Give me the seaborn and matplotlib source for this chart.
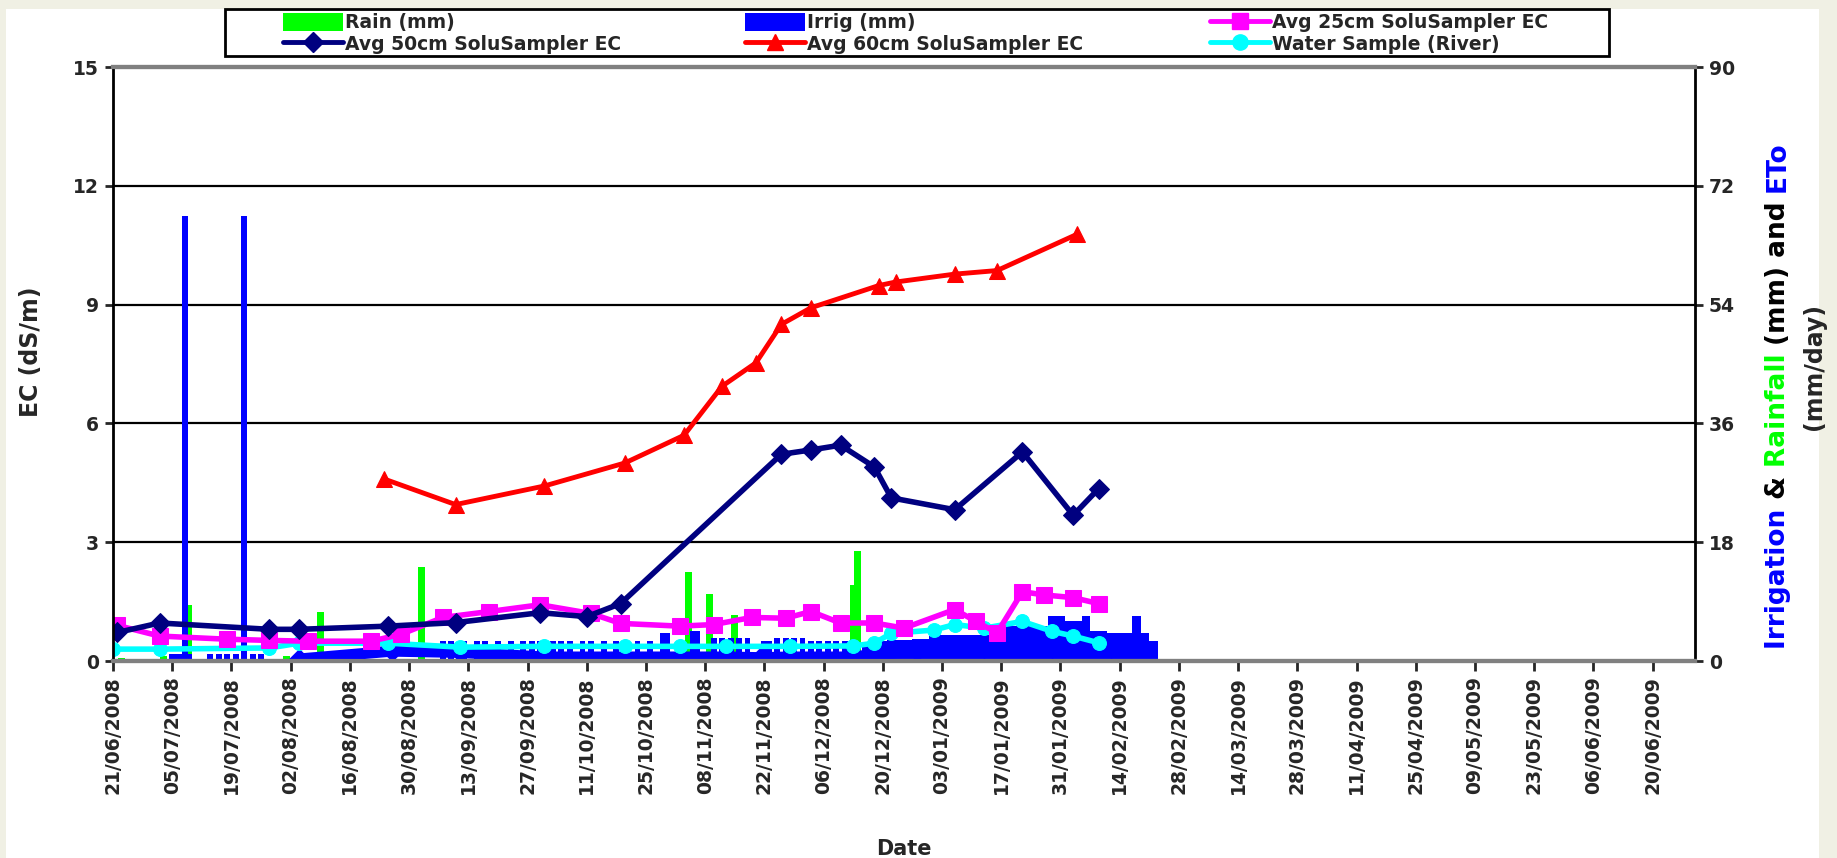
import numpy as np
import pandas as pd
import matplotlib
matplotlib.use("Agg")
import matplotlib.pyplot as plt
import matplotlib.dates as mdates
from matplotlib.patches import Patch, Rectangle
from matplotlib.lines import Line2D
import seaborn as sns

sns.set_style("white")
plt.rcParams['font.family'] = ['DejaVu Sans']
plt.rcParams['font.weight'] = 'bold'

# ============================================================
# Data
# ============================================================
rain_dates = ["2008-06-23", "2008-07-03", "2008-07-09", "2008-08-01", "2008-08-09",
              "2008-08-16", "2008-09-02", "2008-11-04", "2008-11-09", "2008-11-15",
              "2008-12-13", "2008-12-14"]
rain_mm = [0.5, 0.7, 8.5, 0.8, 7.5, 0.4, 14.3, 13.5, 10.2, 7.0, 11.5, 16.6]

irrig_dates = ["2008-07-05", "2008-07-06", "2008-07-07", "2008-07-08", "2008-07-09",
               "2008-07-14", "2008-07-16", "2008-07-18", "2008-07-20", "2008-07-22",
               "2008-07-24", "2008-07-26",
               "2008-09-07", "2008-09-09", "2008-09-12", "2008-09-15", "2008-09-17",
               "2008-09-20", "2008-09-23", "2008-09-26", "2008-09-28", "2008-09-30",
               "2008-10-03", "2008-10-05", "2008-10-07", "2008-10-10", "2008-10-12",
               "2008-10-15", "2008-10-18", "2008-10-20", "2008-10-23", "2008-10-26",
               "2008-10-29", "2008-10-30", "2008-11-05", "2008-11-06",
               "2008-11-10", "2008-11-12", "2008-11-14", "2008-11-16", "2008-11-18",
               "2008-11-22", "2008-11-23",
               "2008-11-25", "2008-11-27", "2008-11-29", "2008-12-01",
               "2008-12-03", "2008-12-05", "2008-12-07", "2008-12-09", "2008-12-11"]
irrig_mm = [1.0, 1.0, 1.0, 67.5, 1.0,
            1.0, 1.0, 1.0, 1.0, 67.5,
            1.0, 1.0,
            3.0, 3.0, 3.0, 3.0, 3.0,
            3.0, 3.0, 3.0, 3.0, 3.0,
            3.0, 3.0, 3.0, 3.0, 3.0,
            3.0, 3.0, 3.0, 3.0, 3.0,
            4.25, 4.25, 4.5, 4.5,
            3.5, 3.5, 3.5, 3.5, 3.5,
            3.0, 3.0,
            3.5, 3.5, 3.5, 3.5,
            3.0, 3.0, 3.0, 3.0, 3.0]

# summer irrigation block, one value per 2 days from 16/12/2008
irrig_summer_dates = pd.date_range("2008-12-16", "2009-02-22", freq="2D")
irrig_summer_mm = [2.5, 2.75, 3.0, 3.25, 3.25, 3.25, 3.3, 3.3, 3.75, 4.0,
                   4.0, 4.0, 4.0, 4.0, 4.0, 4.0, 4.0, 5.25, 5.25, 5.25,
                   5.25, 5.25, 6.75, 6.75, 6.0, 6.0, 6.75, 4.5, 4.5, 4.25,
                   4.25, 4.25, 6.75, 4.25, 3.0]

eto_dates = ["2008-08-04", "2008-08-26", "2008-09-11", "2008-10-01", "2008-10-20",
             "2008-11-02", "2008-11-13", "2008-11-21", "2008-11-28", "2008-12-12",
             "2008-12-28", "2009-01-13", "2009-01-29", "2009-02-12"]
eto_mm = [0.3, 1.5, 1.3, 0.6, 0.6, 0.6, 0.6, 0.5, 0.6, 0.6, 1.5, 2.0, 2.0, 2.0]

ec25_dates = ["2008-06-22", "2008-07-02", "2008-07-18", "2008-07-28", "2008-08-06",
              "2008-08-21", "2008-08-28", "2008-09-07", "2008-09-18", "2008-09-30",
              "2008-10-12", "2008-10-19", "2008-11-02", "2008-11-10", "2008-11-19",
              "2008-11-27", "2008-12-03", "2008-12-10", "2008-12-18", "2008-12-25",
              "2009-01-06", "2009-01-11", "2009-01-16", "2009-01-22", "2009-01-27",
              "2009-02-03", "2009-02-09"]
ec25 = [0.9, 0.63, 0.55, 0.52, 0.5, 0.5, 0.67, 1.1, 1.25, 1.42,
        1.2, 0.95, 0.88, 0.92, 1.1, 1.08, 1.25, 0.96, 0.96, 0.83,
        1.3, 1.0, 0.71, 1.75, 1.67, 1.6, 1.45]

ec50_dates = ["2008-06-22", "2008-07-02", "2008-07-28", "2008-08-04", "2008-08-25",
              "2008-09-10", "2008-09-30", "2008-10-11", "2008-10-19", "2008-11-26",
              "2008-12-03", "2008-12-10", "2008-12-18", "2008-12-22", "2009-01-06",
              "2009-01-22", "2009-02-03", "2009-02-09"]
ec50 = [0.72, 0.96, 0.8, 0.8, 0.88, 0.97, 1.22, 1.12, 1.45, 5.22,
        5.33, 5.45, 4.9, 4.12, 3.82, 5.28, 3.68, 4.35]

ec60_dates = ["2008-08-24", "2008-09-10", "2008-10-01", "2008-10-20", "2008-11-03",
              "2008-11-12", "2008-11-20", "2008-11-26", "2008-12-03", "2008-12-19",
              "2008-12-23", "2009-01-06", "2009-01-16", "2009-02-04"]
ec60 = [4.6, 3.95, 4.42, 5.0, 5.7, 6.94, 7.53, 8.5, 8.92, 9.48,
        9.57, 9.77, 9.86, 10.78]

river_dates = ["2008-06-21", "2008-07-02", "2008-07-28", "2008-08-04", "2008-08-25",
               "2008-09-11", "2008-10-01", "2008-10-20", "2008-11-02", "2008-11-13",
               "2008-11-28", "2008-12-13", "2008-12-18", "2008-12-22", "2009-01-01",
               "2009-01-06", "2009-01-13", "2009-01-22", "2009-01-29", "2009-02-03",
               "2009-02-09"]
river_ec = [0.3, 0.3, 0.33, 0.45, 0.45, 0.35, 0.37, 0.37, 0.37, 0.37,
            0.37, 0.38, 0.45, 0.7, 0.78, 0.92, 0.83, 1.0, 0.75, 0.63, 0.46]

GREEN = "#00FF00"
BLUE = "#0000FF"
NAVY = "#000080"
RED = "#FF0000"
MAGENTA = "#FF00FF"
CYAN = "#00FFFF"


def dnum(dates):
    # dates -> matplotlib day numbers, so bar widths are in days
    return mdates.date2num(pd.to_datetime(dates))


# ============================================================
# Figure
# ============================================================
fig = plt.figure(figsize=(18.37, 8.58), dpi=100)
fig.patch.set_facecolor("white")
ax1 = fig.add_axes([0.0615, 0.2296, 0.8612, 0.6923])
ax2 = ax1.twinx()
ax1.set_zorder(2)
ax2.set_zorder(1)
ax1.patch.set_visible(False)
ax2.patch.set_facecolor("white")

# bars + ETo on the mm axis (behind the EC lines)
ax2.bar(dnum(rain_dates), rain_mm, width=1.6, color=GREEN, linewidth=0, zorder=2)
ax2.bar(dnum(irrig_dates), irrig_mm, width=1.4, color=BLUE, linewidth=0, zorder=2)
ax2.bar(dnum(irrig_summer_dates), irrig_summer_mm, width=2.05, color=BLUE,
        linewidth=0, zorder=2)
sns.lineplot(x=dnum(eto_dates), y=eto_mm, ax=ax2, color=BLUE,
             linewidth=8, marker="D", markersize=10, markeredgecolor=BLUE,
             legend=False, errorbar=None, zorder=3)

# EC series
sns.lineplot(x=dnum(river_dates), y=river_ec, ax=ax1, color=CYAN,
             linewidth=4, marker="o", markersize=10, markeredgecolor=CYAN,
             legend=False, errorbar=None)
sns.lineplot(x=dnum(ec25_dates), y=ec25, ax=ax1, color=MAGENTA,
             linewidth=4, marker="s", markersize=11, markeredgecolor=MAGENTA,
             legend=False, errorbar=None)
sns.lineplot(x=dnum(ec50_dates), y=ec50, ax=ax1, color=NAVY,
             linewidth=4, marker="D", markersize=10, markeredgecolor=NAVY,
             legend=False, errorbar=None)
sns.lineplot(x=dnum(ec60_dates), y=ec60, ax=ax1, color=RED,
             linewidth=3.5, marker="^", markersize=11, markeredgecolor=RED,
             legend=False, errorbar=None)

# axes / ticks
ax1.set_xlim(dnum(["2008-06-21"])[0], dnum(["2009-06-30"])[0])
ax1.set_ylim(0, 15)
ax2.set_ylim(0, 90)
ax1.set_yticks(np.arange(0, 16, 3))
ax2.set_yticks(np.arange(0, 91, 18))
ax1.set_xticks(dnum(pd.date_range("2008-06-21", "2009-06-20", freq="14D")))
ax1.xaxis.set_major_formatter(mdates.DateFormatter("%d/%m/%Y"))
plt.setp(ax1.get_xticklabels(), rotation=90)

ax2.yaxis.grid(True, color="black", linewidth=1.6)
ax2.set_axisbelow(True)
ax1.grid(False)

ax1.tick_params(axis="x", bottom=True, direction="out", length=7, width=2,
                labelsize=13.5, pad=4)
ax1.tick_params(axis="y", left=True, direction="out", length=6, width=2,
                labelsize=13.5, pad=4)
ax2.tick_params(axis="y", right=True, direction="out", length=6, width=2,
                labelsize=13.5, pad=4)

for ax in (ax1, ax2):
    ax.spines["top"].set_color("#808080")
    ax.spines["top"].set_linewidth(3)
    ax.spines["bottom"].set_color("#808080")
    ax.spines["bottom"].set_linewidth(3)
ax1.spines["left"].set_color("black")
ax1.spines["left"].set_linewidth(2)
ax1.spines["right"].set_visible(False)
ax2.spines["left"].set_visible(False)
ax2.spines["right"].set_color("black")
ax2.spines["right"].set_linewidth(2)

ax1.set_xlabel("Date", fontsize=15, fontweight="bold", labelpad=32)
ax1.set_ylabel("EC (dS/m)", fontsize=17, fontweight="bold")
ax1.yaxis.set_label_coords(-0.044, 0.52)
ax2.set_ylabel("")

# multi-coloured right axis label
renderer = fig.canvas.get_renderer()
pieces = [("Irrigation ", BLUE), ("& ", "black"), ("Rainfall ", GREEN),
          ("(mm) and ", "black"), ("ETo", BLUE)]
texts = []
for txt, col in pieces:
    t = fig.text(0.9717, 0.0, txt, rotation=90, rotation_mode="anchor",
                 ha="left", va="baseline", color=col, fontsize=19, fontweight="bold")
    texts.append(t)
heights = [t.get_window_extent(renderer=renderer).height / fig.bbox.height for t in texts]
y = 0.5396 - sum(heights) / 2
for t, h in zip(texts, heights):
    t.set_y(y)
    y += h
fig.text(0.9875, 0.573, "(mm/day)", rotation=90, ha="center", va="center",
         fontsize=17, fontweight="bold")

# legend: three one-column legends inside a drawn box
def line_handle(color, marker, ms):
    return Line2D([], [], color=color, linewidth=3.5, marker=marker, markersize=ms,
                  markeredgecolor=color)

legend_cols = [
    ([Patch(facecolor=GREEN, edgecolor="none"), line_handle(NAVY, "D", 10)],
     ["Rain (mm)", "Avg 50cm SoluSampler EC"], 283),
    ([Patch(facecolor=BLUE, edgecolor="none"), line_handle(RED, "^", 11)],
     ["Irrig (mm)", "Avg 60cm SoluSampler EC"], 745),
    ([line_handle(MAGENTA, "s", 11), line_handle(CYAN, "o", 11)],
     ["Avg 25cm SoluSampler EC", "Water Sample (River)"], 1210),
]
for handles, labels, xpix in legend_cols:
    fig.legend(handles, labels, loc="upper left",
               bbox_to_anchor=(xpix / 1837, 1 - 13 / 858), frameon=False,
               borderpad=0, borderaxespad=0, labelspacing=0.1,
               handlelength=3.2, handleheight=1.1, handletextpad=0.1,
               prop={"weight": "bold", "size": 13.5})
fig.add_artist(Rectangle((225 / 1837, 1 - 56 / 858), (1609 - 225) / 1837, 47 / 858,
                         transform=fig.transFigure, fill=False, edgecolor="black",
                         linewidth=2))

# beige screenshot margin
beige = "#F0F0E4"
for rect in [(0, 0, 6 / 1837, 1), (0, 1 - 9 / 858, 1, 9 / 858),
             (1819 / 1837, 0, 18 / 1837, 1)]:
    fig.add_artist(Rectangle(rect[:2], rect[2], rect[3], transform=fig.transFigure,
                             facecolor=beige, edgecolor="none", zorder=-1))

fig.savefig("out.png", dpi=100)
plt.close(fig)
